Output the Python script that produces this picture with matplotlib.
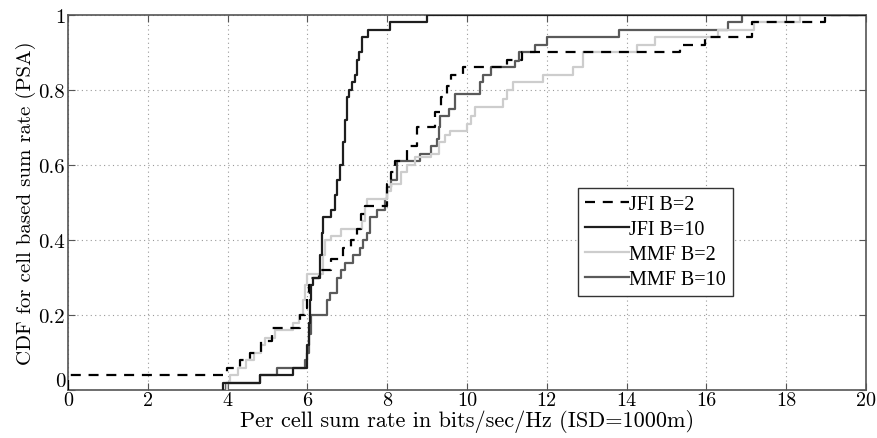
import matplotlib
matplotlib.use("Agg")
import matplotlib.pyplot as plt
import numpy as np

# ---- data: step positions (x) and CDF level after the step ----
jfi2_x = [0.0, 3.98, 4.31, 4.56, 4.85, 5.12, 5.81, 5.95, 6.0, 6.05, 6.1, 6.3, 6.6, 6.9, 7.1,
          7.25, 7.35, 7.44, 8.0, 8.1, 8.2, 8.5, 8.75, 9.2, 9.35, 9.5, 9.6, 9.9, 11.0, 11.37,
          15.35, 15.96, 17.13, 18.97]
jfi2_y = [0.04, 0.06, 0.08, 0.10, 0.13, 0.165, 0.20, 0.22, 0.26, 0.28, 0.30, 0.32, 0.35, 0.38, 0.40,
          0.43, 0.47, 0.49, 0.55, 0.58, 0.61, 0.65, 0.70, 0.74, 0.78, 0.81, 0.84, 0.86, 0.88, 0.90,
          0.92, 0.94, 0.98, 1.0]

jfi10_x = [3.88, 4.81, 5.65, 5.98, 6.0, 6.03, 6.06, 6.1, 6.15, 6.32, 6.36, 6.4, 6.6, 6.7, 6.75,
           6.82, 6.88, 6.94, 7.0, 7.05, 7.12, 7.2, 7.25, 7.3, 7.36, 7.53, 8.07, 8.99]
jfi10_y = [0.02, 0.04, 0.06, 0.08, 0.12, 0.18, 0.24, 0.28, 0.30, 0.36, 0.42, 0.46, 0.48, 0.52, 0.56,
           0.60, 0.66, 0.72, 0.78, 0.80, 0.82, 0.84, 0.88, 0.90, 0.94, 0.96, 0.98, 1.0]

mmf2_x = [3.98, 4.05, 4.25, 4.45, 4.65, 4.85, 4.95, 5.2, 5.65, 5.8, 5.9, 5.95, 6.0, 6.4, 6.45,
          6.6, 6.85, 7.38, 7.45, 7.5, 8.0, 8.1, 8.35, 8.5, 8.7, 9.1, 9.3, 9.45, 9.58, 10.0,
          10.1, 10.2, 10.9, 11.0, 11.15, 11.9, 12.66, 12.9, 14.25, 14.7, 16.3, 17.2, 18.35]
mmf2_y = [0.02, 0.04, 0.06, 0.08, 0.10, 0.12, 0.14, 0.16, 0.18, 0.20, 0.24, 0.28, 0.31, 0.36, 0.40,
          0.41, 0.43, 0.45, 0.49, 0.51, 0.53, 0.55, 0.58, 0.60, 0.62, 0.63, 0.66, 0.68, 0.69, 0.71,
          0.73, 0.755, 0.775, 0.80, 0.82, 0.84, 0.86, 0.90, 0.92, 0.94, 0.96, 0.98, 1.0]

mmf10_x = [3.95, 4.81, 5.23, 5.95, 6.0, 6.05, 6.1, 6.48, 6.57, 6.73, 6.85, 6.95, 7.15, 7.32, 7.4,
           7.5, 7.57, 7.74, 7.94, 7.99, 8.1, 8.24, 8.82, 9.1, 9.25, 9.3, 9.33, 9.54, 9.71, 10.33,
           10.4, 10.6, 11.2, 11.3, 11.7, 12.0, 13.8, 16.55, 16.9]
mmf10_y = [0.02, 0.04, 0.06, 0.08, 0.10, 0.15, 0.20, 0.24, 0.26, 0.30, 0.32, 0.34, 0.36, 0.38, 0.40,
           0.42, 0.46, 0.48, 0.51, 0.54, 0.56, 0.61, 0.63, 0.65, 0.67, 0.70, 0.73, 0.75, 0.79, 0.82,
           0.84, 0.86, 0.876, 0.90, 0.92, 0.94, 0.96, 0.98, 1.0]

labels = ["JFI B=2", "JFI B=10", "MMF B=2", "MMF B=10"]
xticks = [0, 2, 4, 6, 8, 10, 12, 14, 16, 18, 20]
yticks = [0, 0.2, 0.4, 0.6, 0.8, 1]
ytick_labels = ["0", "0.2", "0.4", "0.6", "0.8", "1"]

plt.rcParams['font.family'] = ['cmr10', 'DejaVu Serif']
plt.rcParams['axes.formatter.use_mathtext'] = True
plt.rcParams['mathtext.fontset'] = 'cm'

fig = plt.figure(figsize=(8.77, 4.39), dpi=100)
ax = fig.add_axes([0.0775, 0.1093, 0.9100, 0.8543])


def draw(xs, ys, **kw):
    x = np.concatenate([[xs[0]], np.asarray(xs, float), [20.0]])
    y = np.concatenate([[0.0], np.asarray(ys, float), [ys[-1]]])
    return ax.step(x, y, where='post', **kw)[0]


h_mmf2 = draw(mmf2_x, mmf2_y, color='#cdcdcd', lw=1.6, label=labels[2], zorder=3)
h_mmf10 = draw(mmf10_x, mmf10_y, color='#5a5a5a', lw=1.6, label=labels[3], zorder=2)
h_jfi2 = draw(jfi2_x, jfi2_y, color='black', lw=1.6, ls=(0, (4.5, 3.5)), label=labels[0], zorder=4)
h_jfi10 = draw(jfi10_x, jfi10_y, color='#1e1e1e', lw=1.6, label=labels[1], zorder=5)

ax.set_xlim(0, 20)
ax.set_ylim(0, 1)
ax.set_xticks(xticks)
ax.set_xticklabels([str(t) for t in xticks], fontsize=14.5)
ax.set_yticks(yticks)
ax.set_yticklabels(ytick_labels, fontsize=15)
ax.get_yticklabels()[0].set_verticalalignment('bottom')
ax.grid(True, ls=(0, (1, 3)), color='#9a9a9a', lw=0.8)
ax.tick_params(direction='in', top=True, right=True, length=5, width=0.8,
               pad=2, color='#555555')
ax.tick_params(axis='x', pad=0.5)
for s in ax.spines.values():
    s.set_color('#555555')
    s.set_linewidth(1.2)

ax.set_xlabel("Per cell sum rate in bits/sec/Hz (ISD=1000m)", fontsize=16, labelpad=0)
ax.set_ylabel("CDF for cell based sum rate (PSA)", fontsize=15, labelpad=2)

leg = ax.legend(handles=[h_jfi2, h_jfi10, h_mmf2, h_mmf10],
                loc='lower left', bbox_to_anchor=(0.639, 0.25),
                prop={'family': 'Liberation Serif', 'size': 14.5},
                fancybox=False, framealpha=1, edgecolor='#333333',
                handlelength=2.2, handletextpad=0.0, labelspacing=0.3,
                borderpad=0.35, borderaxespad=0)
leg.get_frame().set_linewidth(1.0)

fig.savefig("out.png", dpi=100)
